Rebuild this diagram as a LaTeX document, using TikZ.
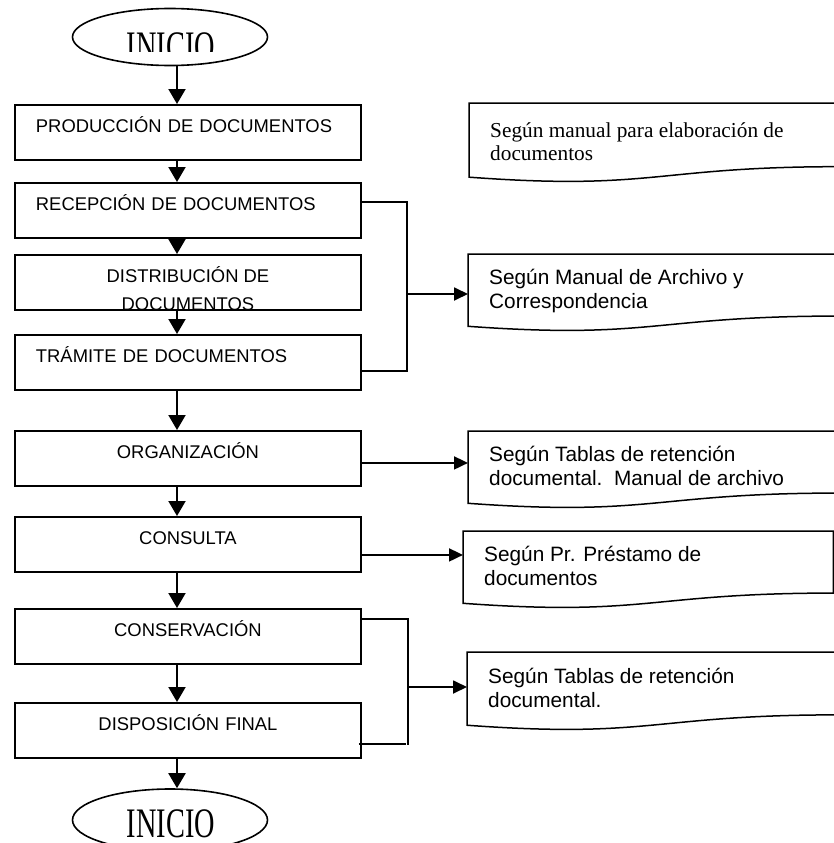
\documentclass[tikz,border=0pt]{standalone}
\usepackage{fontspec}
\usepackage{graphicx}
\usetikzlibrary{arrows.meta,calc,shapes.geometric}
\newfontfamily\arialf{Liberation Sans}
\newfontfamily\timesf{Liberation Serif}
\newcommand\fBox{\arialf\fontsize{18.4}{21}\selectfont}
\newcommand\fBoxTwo{\arialf\fontsize{18.4}{28}\selectfont}
\newcommand\fDoc{\arialf\fontsize{20.8}{24}\selectfont}
\newcommand\fDocSerif{\timesf\fontsize{21.3}{23}\selectfont}
\newcommand\fStart{\timesf\fontsize{42}{42}\selectfont}
\newcommand\docoutline[1]{%
  \draw[docline] (#1.north west) -- (#1.north east)
    -- ($(#1.north east)!0.802!(#1.south east)$)
    .. controls ($(#1.north)!0.802!(#1.south)$) and ($(#1.north)!1.107!(#1.south)$)
    .. ($(#1.north west)!0.934!(#1.south west)$) -- cycle;}
\begin{document}
\begin{tikzpicture}[x=1pt,y=-1pt,
  box/.style={draw, line width=1.9pt, anchor=north west, minimum width=346pt,
    minimum height=55pt, inner xsep=21pt, inner ysep=0pt, text width=304pt,
    font=\fBox, text height=14pt, text depth=13pt},
  lbox/.style={box, align=left},
  cbox/.style={box, align=center},
  startnode/.style={draw, ellipse, line width=1.6pt, minimum width=195pt, inner sep=0pt},
  starttext/.style={anchor=base, inner sep=0pt, font=\fStart},
  docnode/.style={anchor=north west, inner sep=0pt, minimum width=370pt, minimum height=#1},
  docline/.style={line width=1.5pt, line join=miter},
  doctext/.style={anchor=north west, inner sep=0pt, align=left, font=\fDoc},
  mainarr/.style={line width=2pt, -{Triangle[length=15pt,width=17pt]}},
  sidearr/.style={line width=1.8pt, -{Triangle[length=14pt,width=13pt]}},
  brk/.style={line width=1.5pt},
]
\useasboundingbox (0,0) rectangle (834,843);
\clip (0,0) rectangle (834,843);
\coordinate (ax) at (177,0);

% start / end
\node[startnode, minimum height=57pt] (s1) at (170,37) {};
\begin{scope}
  \clip (73,8) rectangle (268,52);
  \node[starttext] (st1) at (171,61) {\scalebox{0.674}[1]{INICIO}};
\end{scope}
\node[startnode, minimum height=62pt] (s2) at (170,820) {};
\node[starttext] (st2) at (171,837) {\scalebox{0.674}[1]{INICIO}};

% process boxes
\node[lbox] (b1) at (14,104) {PRODUCCIÓN DE DOCUMENTOS};
\node[lbox] (b2) at (14,182) {RECEPCIÓN DE DOCUMENTOS};
\node[cbox] (b3) at (14,254) {};
\begin{scope}
  \clip (b3.north west) rectangle (b3.south east);
  \node[anchor=north, inner sep=0pt, align=center, font=\fBoxTwo] (t3)
    at ($(b3.north)+(0,12)$) {\rule{0pt}{16pt}DISTRIBUCIÓN DE\\DOCUMENTOS};
\end{scope}
\node[lbox] (b4) at (14,334) {TRÁMITE DE DOCUMENTOS};
\node[cbox] (b5) at (14,430) {ORGANIZACIÓN};
\node[cbox] (b6) at (14,516) {CONSULTA};
\node[cbox] (b7) at (14,608) {CONSERVACIÓN};
\node[cbox] (b8) at (14,702) {DISPOSICIÓN FINAL};

% main arrows
\draw[mainarr] (s1.south -| ax) -- (b1.north -| ax);
\draw[mainarr] (b1.south -| ax) -- (b2.north -| ax);
\draw[mainarr] (b2.south -| ax) -- (b3.north -| ax);
\draw[mainarr] (b3.south -| ax) -- (b4.north -| ax);
\draw[mainarr] (b4.south -| ax) -- (b5.north -| ax);
\draw[mainarr] (b5.south -| ax) -- (b6.north -| ax);
\draw[mainarr] (b6.south -| ax) -- (b7.north -| ax);
\draw[mainarr] (b7.south -| ax) -- (b8.north -| ax);
\draw[mainarr] (b8.south -| ax) -- (s2.north -| ax);

% documents
\node[docnode=79pt] (d1) at (469,103) {};
\node[docnode=77pt] (d2) at (468,254) {};
\node[docnode=77pt] (d3) at (468,431) {};
\node[docnode=77pt] (d4) at (463,531) {};
\node[docnode=78pt] (d5) at (467,652) {};
\docoutline{d1}
\docoutline{d2}
\docoutline{d3}
\docoutline{d4}
\docoutline{d5}
\node[doctext, font=\fDocSerif] (t1) at ($(d1.north west)+(21,12)$)
  {\rule{0pt}{22pt}Según manual para elaboración de\\documentos};
\node[doctext] (t2) at ($(d2.north west)+(21,8)$)
  {\rule{0pt}{22pt}Según Manual de Archivo y\\Correspondencia};
\node[doctext] (t3b) at ($(d3.north west)+(21,8)$)
  {\rule{0pt}{22pt}Según Tablas de retención\\documental.\ \ Manual de archivo};
\node[doctext] (t4) at ($(d4.north west)+(21,8)$)
  {\rule{0pt}{22pt}Según Pr. Préstamo de\\documentos};
\node[doctext] (t5) at ($(d5.north west)+(21,9)$)
  {\rule{0pt}{22pt}Según Tablas de retención\\documental.};

% bracket 1
\coordinate (k1a) at ($(b2.north east)+(0,20)$);
\coordinate (k1b) at ($(b4.south east)+(0,-20)$);
\coordinate (m1) at (407,294);
\draw[brk] (k1a) -- (k1a -| m1) -- (k1b -| m1) -- (k1b);
\draw[sidearr] (m1) -- (m1 -| d2.west);

% side arrows
\coordinate (s5) at ($(b5.east)+(0,4.5)$);
\draw[sidearr] (s5) -- (s5 -| d3.west);
\coordinate (s6) at ($(b6.east)+(0,10.5)$);
\draw[sidearr] (s6) -- (s6 -| d4.west);

% bracket 2
\coordinate (k2a) at ($(b7.north east)+(0,11)$);
\coordinate (k2b) at ($(b8.south east)+(-3,-15)$);
\coordinate (m2) at (408,687);
\draw[brk] (k2a) -- (k2a -| m2) -- ($(k2b -| m2)+(0,1)$);
\draw[brk] (k2b) -- ($(k2b -| m2)+(-2,0)$);
\draw[sidearr] (m2) -- (m2 -| d5.west);
\end{tikzpicture}
\end{document}
